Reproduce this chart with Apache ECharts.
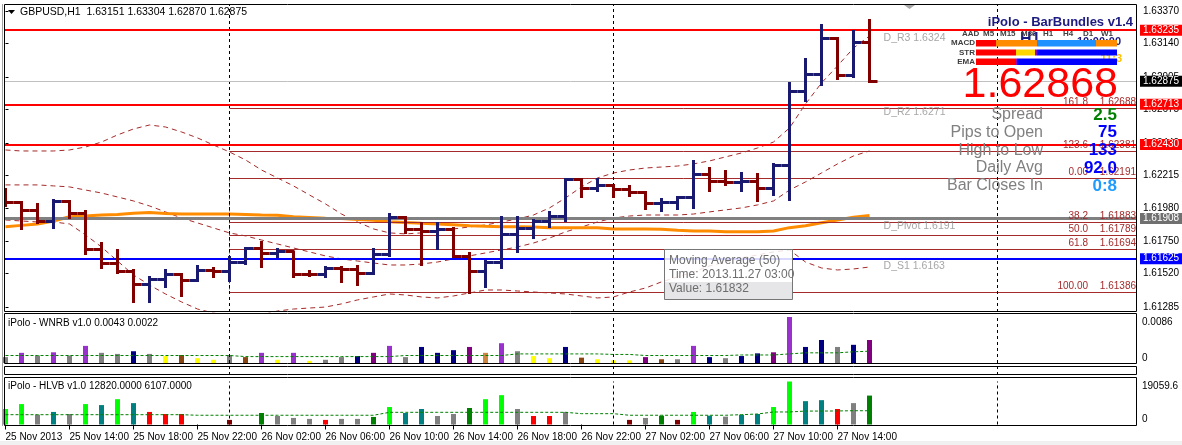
<!DOCTYPE html>
<html><head><meta charset="utf-8">
<script src="https://cdn.jsdelivr.net/npm/echarts@6/dist/echarts.min.js"></script>
<style>html,body{margin:0;padding:0;background:#fff}#c{width:1182px;height:445px}</style>
</head><body><div id="c"></div>
<script>
// ---------------- DATA ----------------
const symbolName = 'GBPUSD,H1';
const xTickIdx = [0,4,8,12,16,20,24,28,32,36,40,44,48,52];
const xTickLabels = ['25 Nov 2013','25 Nov 14:00','25 Nov 18:00','25 Nov 22:00','26 Nov 02:00','26 Nov 06:00','26 Nov 10:00','26 Nov 14:00','26 Nov 18:00','26 Nov 22:00','27 Nov 02:00','27 Nov 06:00','27 Nov 10:00','27 Nov 14:00'];
const separatorIdx = [14, 38, 62];

const open = [1.62099,1.62024,1.61968,1.61889,1.62027,1.61945,1.61692,1.61589,1.61538,1.61447,
1.61482,1.61512,1.61475,1.61545,1.61538,1.61599,1.61695,1.61662,1.61673,1.61517,
1.61515,1.61557,1.61552,1.61524,1.61652,1.61917,1.61828,1.61817,1.61828,1.61638,
1.61533,1.61599,1.61798,1.61838,1.61889,1.61922,1.62184,1.62118,1.62142,1.62113,
1.62090,1.62013,1.62020,1.62058,1.62219,1.62172,1.62161,1.62172,1.62120,1.62284,
1.62803,1.62921,1.63173,1.62914,1.63151];
const high = [1.62113,1.62028,1.62013,1.62038,1.62031,1.61961,1.61739,1.61687,1.61547,1.61494,
1.61547,1.61515,1.61571,1.61557,1.61634,1.61699,1.61746,1.61697,1.61676,1.61540,
1.61564,1.61564,1.61571,1.61697,1.61938,1.61922,1.61875,1.61880,1.61845,1.61669,
1.61610,1.61919,1.61919,1.61896,1.61954,1.62189,1.62189,1.62189,1.62145,1.62137,
1.62093,1.62043,1.62062,1.62310,1.62266,1.62242,1.62231,1.62219,1.62289,1.62862,
1.63031,1.63272,1.63178,1.63230,1.63304];
const low = [1.61996,1.61838,1.61880,1.61842,1.61915,1.61655,1.61561,1.61522,1.61322,1.61322,
1.61423,1.61364,1.61470,1.61498,1.61470,1.61587,1.61564,1.61634,1.61494,1.61501,
1.61494,1.61458,1.61442,1.61517,1.61641,1.61805,1.61580,1.61697,1.61634,1.61383,
1.61423,1.61557,1.61673,1.61774,1.61849,1.61891,1.62062,1.62101,1.62062,1.62066,
1.61978,1.61961,1.61973,1.61984,1.62099,1.62144,1.62101,1.62031,1.62073,1.62038,
1.62733,1.62846,1.62891,1.62905,1.62870];
const close = [1.62024,1.61968,1.61889,1.62027,1.61945,1.61692,1.61589,1.61538,1.61447,1.61482,
1.61512,1.61475,1.61545,1.61538,1.61599,1.61695,1.61662,1.61673,1.61517,1.61515,
1.61557,1.61552,1.61524,1.61652,1.61917,1.61828,1.61817,1.61828,1.61638,1.61533,
1.61599,1.61798,1.61838,1.61889,1.61922,1.62184,1.62118,1.62142,1.62113,1.62090,
1.62013,1.62020,1.62058,1.62219,1.62172,1.62161,1.62172,1.62120,1.62284,1.62803,
1.62921,1.63173,1.62914,1.63150,1.62875];

const ma50 = [1.61851,1.61860,1.61869,1.61891,1.61921,1.61926,1.61933,1.61937,1.61945,1.61951,
1.61944,1.61940,1.61940,1.61940,1.61940,1.61937,1.61933,1.61931,1.61921,1.61916,
1.61910,1.61908,1.61902,1.61896,1.61886,1.61881,1.61875,1.61870,1.61865,1.61858,
1.61854,1.61851,1.61851,1.61849,1.61844,1.61844,1.61844,1.61844,1.61835,1.61835,
1.61835,1.61832,1.61825,1.61821,1.61821,1.61816,1.61816,1.61816,1.61821,1.61844,
1.61858,1.61879,1.61898,1.61917,1.61929];
const bandUpper = [1.62391,1.62384,1.62384,1.62384,1.62391,1.62412,1.62447,1.62497,1.62539,1.62567,
1.62553,1.62518,1.62476,1.62426,1.62377,1.62321,1.62250,1.62194,1.62138,1.62074,
1.62011,1.61940,1.61884,1.61835,1.61807,1.61800,1.61807,1.61821,1.61835,1.61849,
1.61863,1.61884,1.61905,1.61933,1.61983,1.62053,1.62131,1.62194,1.62229,1.62250,
1.62264,1.62271,1.62278,1.62293,1.62314,1.62342,1.62370,1.62405,1.62447,1.62546,
1.62715,1.62863,1.62983,1.63109,1.63194];
const bandMiddle = [1.62145,1.62145,1.62145,1.62138,1.62131,1.62109,1.62088,1.62060,1.62032,1.61997,
1.61955,1.61912,1.61877,1.61842,1.61807,1.61786,1.61757,1.61729,1.61701,1.61673,
1.61645,1.61624,1.61609,1.61595,1.61581,1.61581,1.61588,1.61602,1.61624,1.61645,
1.61666,1.61687,1.61708,1.61736,1.61771,1.61814,1.61849,1.61884,1.61912,1.61926,
1.61933,1.61933,1.61933,1.61940,1.61955,1.61969,1.61983,1.62004,1.62032,1.62109,
1.62166,1.62229,1.62293,1.62349,1.62384];
const bandLower = [1.61898,1.61891,1.61884,1.61884,1.61870,1.61793,1.61708,1.61609,1.61511,1.61440,
1.61377,1.61321,1.61271,1.61243,1.61222,1.61215,1.61229,1.61257,1.61271,1.61278,
1.61285,1.61307,1.61335,1.61356,1.61377,1.61370,1.61356,1.61349,1.61363,1.61384,
1.61405,1.61405,1.61398,1.61391,1.61384,1.61377,1.61363,1.61349,1.61356,1.61391,
1.61419,1.61462,1.61497,1.61532,1.61574,1.61602,1.61631,1.61652,1.61673,1.61687,
1.61602,1.61560,1.61546,1.61553,1.61567];

const priceTicks = [1.63370,1.63140,1.62905,1.62675,1.62440,1.62215,1.61980,1.61750,1.61520,1.61285];
const redLevels = [1.63235, 1.62713, 1.62430];
const pivotLevel = 1.61908;
const s1Level = 1.61625;
const bidLevel = 1.62875;
const pivotNames = ['D_R3 1.6324','D_R2 1.6271','D_Pivot 1.6191','D_S1 1.6163'];
const pivotNameLevels = [1.63235, 1.62713, 1.61908, 1.61625];
const fibNames = ['161.8','123.6','0.00','38.2','50.0','61.8','100.00'];
const fibPrices = [1.62688,1.62381,1.62191,1.61883,1.61789,1.61694,1.61386];
const fibStartIdx = 14;

const wnrb = [0.0011,0.0019,0.0014,0.0020,0.0014,0.0032,0.0019,0.0017,0.0022,0.0017,
0.0013,0.0015,0.0009,0.0006,0.0015,0.0011,0.0019,0.0006,0.0019,0.0004,
0.0006,0.0011,0.0013,0.0019,0.0032,0.0011,0.0030,0.0019,0.0024,0.0030,
0.0019,0.0037,0.0022,0.0013,0.0009,0.0030,0.0010,0.0007,0.0005,0.0005,
0.0011,0.0007,0.0007,0.0032,0.0011,0.0009,0.0013,0.0018,0.0020,0.0086,
0.0030,0.0043,0.0030,0.0034,0.0043];
const wnrbColor = ['gray','orchid','gray','orchid','gray','orchid','gray','gray','navy','gray',
'yellow','brown','yellow','yellow','gray','brown','orchid','yellow','orchid','yellow',
'gray','gray','navy','purple','orchid','gray','navy','navy','navy','purple',
'peru','orchid','gray','yellow','yellow','navy','brown','yellow','yellow','yellow',
'purple','brown','gray','orchid','navy','gray','navy','navy','purple','orchid',
'navy','navy','gray','navy','purple'];
const wnrbAvg = [0.0014,0.0014,0.0014,0.0014,0.0014,0.0014,0.0014,0.0014,0.0014,0.0014,
0.0014,0.0014,0.0014,0.0014,0.0014,0.0012,0.0012,0.0012,0.0012,0.0012,
0.0012,0.0012,0.0012,0.0012,0.0012,0.0014,0.0014,0.0014,0.0014,0.0014,
0.0014,0.0014,0.0017,0.0017,0.0017,0.0017,0.0017,0.0017,0.0016,0.0016,
0.0014,0.0014,0.0014,0.0014,0.0014,0.0014,0.0015,0.0015,0.0015,0.0017,
0.0019,0.0019,0.0019,0.0021,0.0022];
const wnrbMax = 0.0086;

const hlvb = [6870,9050,4350,5570,4650,9050,8610,11220,9480,5570,
4650,4650,null,null,2040,null,5090,3780,2910,2480,
2040,2480,2480,3350,7740,5090,6870,3780,4650,7310,
11220,13010,6870,3780,3780,5570,null,null,null,2040,
2910,3920,2040,5570,3920,3480,4350,4650,7740,19059.6,
10350,10790,6870,9480,12820];
const hlvbColor = ['lime','lime','gray','teal','gray','lime','teal','lime','teal','red',
'red','red',null,null,'maroon',null,'green','gray','gray','gray',
'red','gray','gray','green','lime','teal','teal','gray','gray','green',
'lime','lime','gray','red','red','gray',null,null,null,'maroon',
'gray','green','maroon','lime','teal','gray','teal','teal','lime','lime',
'teal','teal','red','gray','green'];
const hlvbAvg = [4350,4350,4350,4350,4350,4350,4350,4350,4350,4350,
4350,4350,4100,4100,4100,4100,4100,4100,4100,4100,
4100,4100,4100,4100,5400,5400,5400,5400,5400,5400,
5400,5400,5400,5400,5400,5400,4800,4800,4800,4100,
4100,4100,4100,4100,4100,4100,4350,4650,5550,5550,
5950,5950,6000,6107,6107];
const hlvbMax = 19059.6;

const infoLabels = ['Spread','Pips to Open','High to Low','Daily Avg','Bar Closes In'];
const infoValues = ['2.5','75','133','92.0','0:8'];
const infoColors = ['#008000','#0000FF','#0000FF','#0000FF','#1E9BFF'];
const bigPrice = '1.62868';
const tfNames = ['M5','M15','M30','H1','H4','D1','W1'];
const tooltipIdx = 41;
const tooltipTime = '2013.11.27 03:00';

// ---------------- STYLE / LAYOUT ----------------
const FONT = "'Liberation Sans', Arial, sans-serif";
const BULL = '#191970', BEAR = '#800000', FIBC = '#A52A2A';
const COLORS = {gray:'#808080', orchid:'#9932CC', navy:'#000080', yellow:'#FFFF00', brown:'#8B4513',
  purple:'#800080', peru:'#CD853F', lime:'#00FF00', teal:'#008080', red:'#FF0000', maroon:'#800000', green:'#008000'};
const XMIN = -0.09375, XMAX = 70.71875;
const GL = 4, GW = 1133;

const idx = open.map((_, i) => i);
const pair = arr => arr.map((v, i) => [i, v]);

function renderOHLC(params, api) {
  const i = api.value(0);
  const o = api.coord([i, api.value(1)]);
  const h = api.coord([i, api.value(2)]);
  const l = api.coord([i, api.value(3)]);
  const c = api.coord([i, api.value(4)]);
  const color = api.value(4) >= api.value(1) ? BULL : BEAR;
  const half = api.size([1, 0])[0] / 2;
  const x = Math.round(h[0] - 0.5) + 0.5;
  const yo = Math.round(o[1] - 0.5) + 0.5, yc = Math.round(c[1] - 0.5) + 0.5;
  const st = { stroke: color, lineWidth: 3, lineCap: 'butt' };
  return { type: 'group', children: [
    { type: 'line', shape: { x1: x, y1: Math.round(h[1]) - 1, x2: x, y2: Math.round(l[1]) + 1 }, style: st },
    { type: 'line', shape: { x1: x - half, y1: yo, x2: x + 1, y2: yo }, style: st },
    { type: 'line', shape: { x1: x - 1, y1: yc, x2: x + half, y2: yc }, style: st }
  ]};
}

const levelLabel = (bg) => ({ show: true, position: 'end', distance: 3, formatter: p => Number(p.value).toFixed(5),
  backgroundColor: bg, color: '#fff', padding: [1, 3, 0, 3], fontSize: 10, fontFamily: FONT });

const sepLine = {
  silent: true, symbol: ['none', 'none'], animation: false, precision: 5,
  lineStyle: { color: '#000', type: [3, 3], width: 1 }, label: { show: false },
  data: separatorIdx.map(v => ({ xAxis: v }))
};

const xBase = gi => ({ type: 'value', gridIndex: gi, min: XMIN, max: XMAX, axisLine: { show: false },
  axisTick: { show: false }, axisLabel: { show: false }, splitLine: { show: false } });

const yLab = (gi, max, val, va, fmt) => ({ type: 'value', gridIndex: gi, position: 'right', min: 0, max: max,
  axisLine: { show: false }, axisTick: { show: false }, splitLine: { show: false },
  axisLabel: { customValues: [val], verticalAlign: va, formatter: fmt, margin: 5, fontSize: 10, color: '#000', fontFamily: FONT } });

const last = open.length - 1;
const headerText = symbolName + '  ' + [open[last], high[last], low[last], close[last]].map(v => v.toFixed(5)).join(' ');

const graphics = [];
[[4.5, 1132, 307], [313.5, 1132, 50], [366.5, 1132, 8], [377.5, 1132, 48]].forEach(f => {
  graphics.push({ type: 'rect', z: 50, silent: true, shape: { x: 4.5, y: f[0], width: f[1], height: f[2] },
    style: { fill: null, stroke: '#000', lineWidth: 1 } });
});
graphics.push({ type: 'line', z: 50, shape: { x1: 2.5, y1: 4, x2: 2.5, y2: 426 }, style: { stroke: '#A0A0A0', lineWidth: 1 } });
graphics.push({ type: 'rect', z: 50, shape: { x: 0, y: 441, width: 1182, height: 4 }, style: { fill: '#F0F0F0' } });
graphics.push({ type: 'polygon', z: 60, shape: { points: [[8, 10], [15, 10], [11.5, 14]] }, style: { fill: '#000' } });
graphics.push({ type: 'text', z: 60, x: 20, y: 12, style: { text: headerText, font: '10.5px ' + FONT, fill: '#000', verticalAlign: 'middle' } });
graphics.push({ type: 'polygon', z: 60, shape: { points: [[904, 5], [915, 5], [909.5, 9]] }, style: { fill: '#A8A8A8' } });
graphics.push({ type: 'text', z: 60, x: 8, y: 323, style: { text: 'iPolo - WNRB v1.0 ' + wnrb[last].toFixed(4) + ' ' + wnrbAvg[last].toFixed(4), font: '10px ' + FONT, fill: '#000', verticalAlign: 'middle' } });
graphics.push({ type: 'text', z: 60, x: 8, y: 386, style: { text: 'iPolo - HLVB v1.0 ' + hlvb[last].toFixed(4) + ' ' + hlvbAvg[last].toFixed(4), font: '10px ' + FONT, fill: '#000', verticalAlign: 'middle' } });
graphics.push({ type: 'text', z: 60, x: 1133, y: 22, style: { text: 'iPolo - BarBundles v1.4', font: 'bold 13px ' + FONT, fill: '#1C1C80', align: 'right', verticalAlign: 'middle' } });
graphics.push({ type: 'text', z: 60, x: 962, y: 33.5, style: { text: 'AAD', font: 'bold 8px ' + FONT, fill: '#404040', verticalAlign: 'middle' } });
const tfX = [983, 1000, 1021, 1043, 1063, 1083, 1101];
tfNames.forEach((t, k) => graphics.push({ type: 'text', z: 60, x: tfX[k], y: 33.5, style: { text: t, font: 'bold 8px ' + FONT, fill: '#404040', verticalAlign: 'middle' } }));
[['MACD', 43], ['STR', 52.5], ['EMA', 61.5]].forEach(r => graphics.push({ type: 'text', z: 60, x: 975, y: r[1], style: { text: r[0], font: 'bold 8px ' + FONT, fill: '#404040', align: 'right', verticalAlign: 'middle' } }));
graphics.push({ type: 'text', z: 58, x: 1020, y: 40, style: { text: 'H1', font: 'bold 16px ' + FONT, fill: '#1C1C80', verticalAlign: 'middle' } });
graphics.push({ type: 'text', z: 58, x: 1121, y: 42, style: { text: '10:00:00', font: 'bold 11px ' + FONT, fill: '#1C1C80', align: 'right', verticalAlign: 'middle' } });
graphics.push({ type: 'text', z: 58, x: 1122, y: 59, style: { text: '11:3', font: 'bold 11px ' + FONT, fill: '#FFC000', align: 'right', verticalAlign: 'middle' } });
[
  [976, 40, 20, 6.5, '#FF0000'], [996, 40, 41, 6.5, '#FF8C00'], [1037, 40, 59, 6.5, '#1E90FF'], [1096, 40, 21, 6.5, '#FF8C00'],
  [976, 49.5, 40, 6, '#FF0000'], [1016, 49.5, 19, 6, '#FFD700'], [1035, 49.5, 2, 6, '#9400D3'], [1037, 49.5, 80, 6, '#0000FF'],
  [976, 58.5, 39, 6.5, '#FF0000'], [1015, 58.5, 2, 6.5, '#9400D3'], [1017, 58.5, 100, 6.5, '#0000FF']
].forEach(r => graphics.push({ type: 'rect', z: 59, shape: { x: r[0], y: r[1], width: r[2], height: r[3] }, style: { fill: r[4] } }));
graphics.push({ type: 'text', z: 60, x: 1118, y: 85, style: { text: bigPrice, font: '43px ' + FONT, fill: '#FF0000', align: 'right', verticalAlign: 'middle' } });
const infoY = [115, 132.5, 150.5, 168, 186];
infoLabels.forEach((t, k) => {
  graphics.push({ type: 'text', z: 60, x: 1043, y: infoY[k], style: { text: t, font: '16px ' + FONT, fill: '#808080', align: 'right', verticalAlign: 'middle' } });
  graphics.push({ type: 'text', z: 60, x: 1117, y: infoY[k], style: { text: infoValues[k], font: 'bold 17px ' + FONT, fill: infoColors[k], align: 'right', verticalAlign: 'middle' } });
});
graphics.push({ type: 'rect', z: 70, shape: { x: 664.5, y: 249.5, width: 128, height: 50 }, style: { fill: 'rgba(255,255,255,0.85)', stroke: '#767676', lineWidth: 1 } });
graphics.push({ type: 'rect', z: 70, shape: { x: 665, y: 282, width: 127, height: 17 }, style: { fill: '#E6E6E8' } });
[['Moving Average (50)', 261], ['Time: ' + tooltipTime, 274.5], ['Value: ' + ma50[tooltipIdx].toFixed(5), 289]].forEach(r =>
  graphics.push({ type: 'text', z: 71, x: 669, y: r[1], style: { text: r[0], font: '12px ' + FONT, fill: '#6D6D6D', verticalAlign: 'middle' } }));

const option = {
  animation: false,
  backgroundColor: '#fff',
  textStyle: { fontFamily: FONT },
  grid: [
    { left: GL, top: 4, width: GW, height: 308, outerBoundsMode: 'none', containLabel: false },
    { left: GL, top: 317, width: GW, height: 46, outerBoundsMode: 'none', containLabel: false },
    { left: GL, top: 381.5, width: GW, height: 43, outerBoundsMode: 'none', containLabel: false },
    { left: GL, top: 367, width: GW, height: 8, outerBoundsMode: 'none', containLabel: false }
  ],
  xAxis: [
    xBase(0), xBase(1),
    Object.assign(xBase(2), {
      axisTick: { show: true, customValues: xTickIdx, length: 5, lineStyle: { color: '#000' } },
      axisLabel: { show: true, customValues: xTickIdx, formatter: v => xTickLabels[xTickIdx.indexOf(Math.round(v))] || '',
        align: 'left', margin: 8, fontSize: 10, color: '#000', fontFamily: FONT }
    }),
    xBase(3)
  ],
  yAxis: [
    { type: 'value', gridIndex: 0, position: 'right', min: 1.61250, max: 1.63419, axisLine: { show: false }, splitLine: { show: false },
      axisTick: { show: true, customValues: priceTicks, length: 3, lineStyle: { color: '#000' } },
      axisLabel: { customValues: priceTicks, formatter: v => v.toFixed(5), margin: 6, fontSize: 10, color: '#000', fontFamily: FONT } },
    yLab(1, wnrbMax, wnrbMax, 'top', v => v.toFixed(4)),
    yLab(1, wnrbMax, 0, 'bottom', () => '0'),
    yLab(2, hlvbMax, hlvbMax, 'top', v => String(v)),
    yLab(2, hlvbMax, 0, 'bottom', () => '0'),
    { type: 'value', gridIndex: 3, min: 0, max: 1, show: false }
  ],
  graphic: { elements: graphics },
  series: [
    { type: 'line', xAxisIndex: 0, yAxisIndex: 0, data: [], z: 1, silent: true,
      markLine: { silent: true, symbol: ['none', 'none'], animation: false, precision: 5,
        data: fibPrices.map((p, k) => [
          { coord: [fibStartIdx, p], lineStyle: { color: FIBC, width: 1, type: 'solid' },
            label: { show: true, position: 'insideEndTop', distance: 1, formatter: '{a|' + fibNames[k] + '}{b|' + p.toFixed(5) + '}',
              rich: { a: { width: 40, align: 'right', color: FIBC, fontSize: 10, fontFamily: FONT }, b: { width: 48, align: 'right', color: FIBC, fontSize: 10, fontFamily: FONT } } } },
          { coord: [XMAX, p] }
        ]).concat([[
          { coord: [fibStartIdx, fibPrices[2]], lineStyle: { color: '#FF0000', width: 1, type: [3, 3] }, label: { show: false } },
          { coord: [fibStartIdx, fibPrices[6]] }
        ]])
      } },
    { type: 'line', xAxisIndex: 0, yAxisIndex: 0, data: [], z: 2, silent: true, markLine: sepLine },
    { type: 'line', xAxisIndex: 0, yAxisIndex: 0, data: pair(bandUpper), showSymbol: false, z: 3, silent: true, clip: true,
      lineStyle: { color: FIBC, width: 1, type: [5, 4] } },
    { type: 'line', xAxisIndex: 0, yAxisIndex: 0, data: pair(bandMiddle), showSymbol: false, z: 3, silent: true, clip: true,
      lineStyle: { color: FIBC, width: 1, type: [5, 4] } },
    { type: 'line', xAxisIndex: 0, yAxisIndex: 0, data: pair(bandLower), showSymbol: false, z: 3, silent: true, clip: true,
      lineStyle: { color: FIBC, width: 1, type: [5, 4] } },
    { type: 'line', xAxisIndex: 0, yAxisIndex: 0, data: pair(ma50), showSymbol: false, z: 4, silent: true,
      lineStyle: { color: '#FF8C00', width: 3 } },
    { type: 'line', xAxisIndex: 0, yAxisIndex: 0, data: [], z: 5, silent: true,
      markLine: { silent: true, symbol: ['none', 'none'], animation: false, precision: 5,
        data: [{ yAxis: bidLevel, lineStyle: { color: '#C0C0C0', width: 1, type: 'solid' }, label: levelLabel('#000000') }]
          .concat(redLevels.map(v => ({ yAxis: v, lineStyle: { color: '#FF0000', width: 2, type: 'solid' }, label: levelLabel('#FF0000') })))
          .concat([{ yAxis: pivotLevel, lineStyle: { color: '#808080', width: 3, type: 'solid' }, label: levelLabel('#707070') },
                   { yAxis: s1Level, lineStyle: { color: '#0000FF', width: 2, type: 'solid' }, label: levelLabel('#0000FF') }])
      } },
    { type: 'custom', xAxisIndex: 0, yAxisIndex: 0, z: 8, clip: true, silent: true, renderItem: renderOHLC,
      encode: { x: 0, y: [1, 2, 3, 4] },
      data: idx.map(i => [i, open[i], high[i], low[i], close[i]]) },
    { type: 'scatter', xAxisIndex: 0, yAxisIndex: 0, z: 9, silent: true, symbolSize: 1, itemStyle: { color: 'rgba(0,0,0,0)' },
      data: pivotNameLevels.map(v => [54.85, v]),
      label: { show: true, position: 'right', distance: 0, offset: [0, 7.5], formatter: p => pivotNames[p.dataIndex], color: '#909090', fontSize: 10.5, fontFamily: FONT } },
    { type: 'line', xAxisIndex: 1, yAxisIndex: 1, data: [], silent: true, markLine: sepLine },
    { type: 'bar', xAxisIndex: 1, yAxisIndex: 1, barWidth: 5, silent: true, z: 3,
      data: wnrb.map((v, i) => ({ value: [i, v], itemStyle: { color: COLORS[wnrbColor[i]] } })) },
    { type: 'line', xAxisIndex: 1, yAxisIndex: 1, data: pair(wnrbAvg), showSymbol: false, z: 4, silent: true,
      lineStyle: { color: '#008000', width: 1, type: [3, 2] } },
    { type: 'line', xAxisIndex: 3, yAxisIndex: 5, data: [], silent: true, markLine: sepLine },
    { type: 'line', xAxisIndex: 2, yAxisIndex: 3, data: [], silent: true, markLine: sepLine },
    { type: 'bar', xAxisIndex: 2, yAxisIndex: 3, barWidth: 5, silent: true, z: 3,
      data: hlvb.map((v, i) => ({ value: [i, v], itemStyle: { color: hlvbColor[i] ? COLORS[hlvbColor[i]] : 'transparent' } })).filter(d => d.value[1] !== null) },
    { type: 'line', xAxisIndex: 2, yAxisIndex: 3, data: pair(hlvbAvg), showSymbol: false, z: 4, silent: true,
      lineStyle: { color: '#008000', width: 1, type: [3, 2] } }
  ]
};

const chart = echarts.init(document.getElementById('c'), null, { renderer: 'canvas' });
chart.setOption(option);
</script></body></html>
